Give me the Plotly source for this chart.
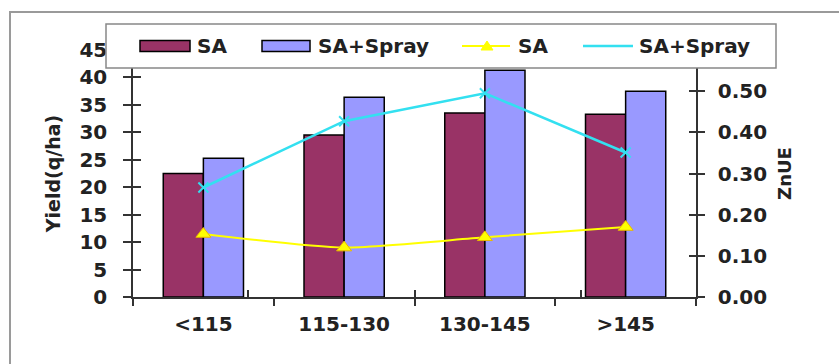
import plotly.graph_objects as go

categories = ["<115", "115-130", "130-145", ">145"]
yield_sa = [22.5, 29.5, 33.5, 33.3]
yield_sa_spray = [25.3, 36.4, 41.3, 37.5]
znue_sa = [0.153, 0.120, 0.145, 0.170]
znue_sa_spray = [0.266, 0.427, 0.495, 0.351]
name_sa = "SA"
name_spray = "SA+Spray"
left_ticks = [0, 5, 10, 15, 20, 25, 30, 35, 40, 45]
right_ticks = [0.0, 0.1, 0.2, 0.3, 0.4, 0.5]

FONT = "DejaVu Sans"
C_SA = "#993366"
C_SP = "#9999FF"
C_Y = "#FFFF00"
C_C = "#33E0F0"

W, H = 839, 364
L, R, T, B = 133, 143, 50, 67
PW, PH = W - L - R, H - T - B

def px(x):
    return (x - L) / PW

def py(y):
    return (H - B - y) / PH

fig = go.Figure()
fig.add_trace(go.Bar(x=categories, y=yield_sa, name=name_sa, marker=dict(color=C_SA, line=dict(color="black", width=1.5)), showlegend=False))
fig.add_trace(go.Bar(x=categories, y=yield_sa_spray, name=name_spray, marker=dict(color=C_SP, line=dict(color="black", width=1.5)), showlegend=False))
fig.add_trace(go.Scatter(x=categories, y=znue_sa, name=name_sa, yaxis="y2", mode="lines+markers",
                         line=dict(color=C_Y, width=2, shape="spline", smoothing=0.6),
                         marker=dict(symbol="triangle-up", size=13, color=C_Y, line=dict(color="#E8B800", width=1)), showlegend=False))
fig.add_trace(go.Scatter(x=categories, y=znue_sa_spray, name=name_spray, yaxis="y2", mode="lines+markers",
                         line=dict(color=C_C, width=2.5),
                         marker=dict(symbol="x-thin", size=10, color=C_C, line=dict(color=C_C, width=2)), showlegend=False))
# ghost traces to show the inside halves of the crossing ticks
fig.add_trace(go.Scatter(x=categories, y=[None] * len(categories), xaxis="x2", yaxis="y3", showlegend=False, hoverinfo="skip"))
fig.add_trace(go.Scatter(x=categories, y=[None] * len(categories), xaxis="x", yaxis="y4", showlegend=False, hoverinfo="skip"))

tickfont = dict(family=FONT, size=20, color="#222222", weight="bold")
axline = dict(showline=True, linecolor="#333333", linewidth=1.5, showgrid=False, zeroline=False)

fig.update_layout(
    width=W, height=H,
    margin=dict(l=L, r=R, t=T, b=B, autoexpand=False),
    paper_bgcolor="white", plot_bgcolor="white",
    barmode="group", bargap=0.43, bargroupgap=0,
    xaxis=dict(type="category", categoryarray=categories, tickson="boundaries", ticks="outside", ticklen=7,
               tickcolor="#333333", tickwidth=1.5, tickfont=tickfont, ticklabelstandoff=8, **axline),
    xaxis2=dict(type="category", categoryarray=categories, overlaying="x", anchor="y", side="bottom",
                tickson="boundaries", ticks="inside", ticklen=7, tickcolor="#333333", tickwidth=1.5,
                showticklabels=False, showgrid=False, zeroline=False, showline=False),
    yaxis=dict(range=[0, 45], tickvals=left_ticks, ticks="outside", ticklen=8, tickcolor="#333333", tickwidth=1.5,
               tickfont=tickfont, ticklabelstandoff=12,
               title=dict(text="Yield(q/ha)", font=dict(family=FONT, size=19, color="#222222", weight="bold"), standoff=14),
               **axline),
    yaxis2=dict(range=[0, 0.6], tickvals=right_ticks, tickformat=".2f", overlaying="y", side="right", anchor="x",
                ticks="outside", ticklen=7, tickcolor="#333333", tickwidth=1.5, tickfont=tickfont, ticklabelstandoff=9,
                title=dict(text="ZnUE", font=dict(family=FONT, size=18, color="#222222", weight="bold"), standoff=12),
                **axline),
    yaxis3=dict(range=[0, 45], tickvals=left_ticks, overlaying="y", side="left", anchor="x2", ticks="inside", ticklen=8,
                tickcolor="#333333", tickwidth=1.5, showticklabels=False, showgrid=False, zeroline=False, showline=False),
    yaxis4=dict(range=[0, 0.6], tickvals=right_ticks, overlaying="y", side="right", anchor="x", ticks="inside", ticklen=7,
                tickcolor="#333333", tickwidth=1.5, showticklabels=False, showgrid=False, zeroline=False, showline=False),
)

shapes = []
# outer border
shapes.append(dict(type="rect", xref="paper", yref="paper", x0=px(10), x1=px(850), y0=py(372), y1=py(12),
                   line=dict(color="#9a9a9a", width=2), fillcolor="rgba(0,0,0,0)", layer="below"))
# legend box
shapes.append(dict(type="rect", xref="paper", yref="paper", x0=px(106), x1=px(776), y0=py(68), y1=py(24),
                   line=dict(color="#888888", width=1.5), fillcolor="white", layer="above"))
LY = 46
shapes.append(dict(type="rect", xref="paper", yref="paper", x0=px(140), x1=px(190), y0=py(LY + 5.5), y1=py(LY - 5.5),
                   line=dict(color="black", width=1.5), fillcolor=C_SA, layer="above"))
shapes.append(dict(type="rect", xref="paper", yref="paper", x0=px(262), x1=px(310), y0=py(LY + 5.5), y1=py(LY - 5.5),
                   line=dict(color="black", width=1.5), fillcolor=C_SP, layer="above"))
shapes.append(dict(type="line", xref="paper", yref="paper", x0=px(462), x1=px(510), y0=py(LY), y1=py(LY),
                   line=dict(color=C_Y, width=2), layer="above"))
tri = "M {} {} L {} {} L {} {} Z".format(px(481), py(LY + 4), px(493), py(LY + 4), px(487), py(LY - 5))
shapes.append(dict(type="path", xref="paper", yref="paper", path=tri, line=dict(color=C_Y, width=1), fillcolor=C_Y, layer="above"))
shapes.append(dict(type="line", xref="paper", yref="paper", x0=px(583), x1=px(633), y0=py(LY), y1=py(LY),
                   line=dict(color=C_C, width=2.5), layer="above"))
fig.update_layout(shapes=shapes)

legfont = dict(family=FONT, size=20, color="#222222", weight="bold")
for xs, txt in [(195, name_sa), (316, name_spray), (516, name_sa), (637, name_spray)]:
    fig.add_annotation(xref="paper", yref="paper", x=px(xs), y=py(LY), text=txt, showarrow=False,
                       xanchor="left", yanchor="middle", font=legfont)

fig.write_html("out.html", config={"displayModeBar": False},
               post_script="document.body.style.margin='0';document.body.style.overflow='hidden';")
